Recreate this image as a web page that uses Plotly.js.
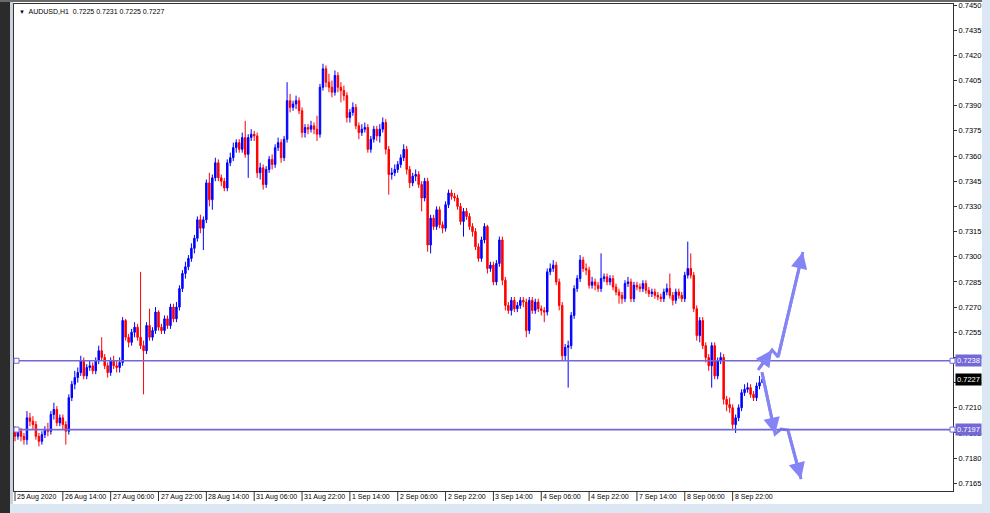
<!DOCTYPE html>
<html><head><meta charset="utf-8">
<script src="https://cdn.plot.ly/plotly-3.0.1.min.js"></script>
<style>
html,body{margin:0;padding:0;background:#fff;overflow:hidden}
#wrap{position:relative;width:990px;height:513px}
#chart{position:absolute;left:0;top:0;width:990px;height:513px}
.deco{position:absolute;pointer-events:none}
</style></head><body>
<div id="wrap"><div id="chart"></div>
<div class="deco" style="left:0;top:0;width:10px;height:513px;background:#2b2b2b"></div>
<div class="deco" style="left:10px;top:0;width:3px;height:513px;background:#c9d3e0"></div>
<div class="deco" style="left:0;top:0;width:990px;height:2px;background:#6a6a6a"></div>
<div class="deco" style="left:10px;top:504px;width:980px;height:9px;background:#dce7f4"></div>
<div class="deco" style="left:982px;top:0;width:8px;height:513px;background:#dce7f4"></div>
</div>
<script>
const symbol = "AUDUSD,H1";
const tickBars = [0,16,32,48,64,80,96,112,128,144,160,176,192,208,224,240];
const tickLabels = ["25 Aug 2020","26 Aug 14:00","27 Aug 06:00","27 Aug 22:00","28 Aug 14:00","31 Aug 06:00","31 Aug 22:00","1 Sep 14:00","2 Sep 06:00","2 Sep 22:00","3 Sep 14:00","4 Sep 06:00","4 Sep 22:00","7 Sep 14:00","8 Sep 06:00","8 Sep 22:00"];

const open = [
0.7197,0.7193,0.7196,0.7193,0.7191,0.7204,0.7202,0.7200,0.7193,0.7190,
0.7194,0.7197,0.7196,0.7206,0.7209,0.7201,0.7204,0.7200,0.7196,0.7216,
0.7224,0.7228,0.7231,0.7238,0.7229,0.7234,0.7235,0.7232,0.7238,0.7244,
0.7240,0.7235,0.7231,0.7238,0.7235,0.7234,0.7237,0.7262,0.7252,0.7249,
0.7255,0.7258,0.7252,0.7247,0.7244,0.7259,0.7252,0.7256,0.7267,0.7258,
0.7256,0.7263,0.7259,0.7270,0.7263,0.7270,0.7281,0.7290,0.7294,0.7299,
0.7305,0.7311,0.7322,0.7317,0.7322,0.7344,0.7334,0.7347,0.7356,0.7347,
0.7345,0.7341,0.7356,0.7359,0.7365,0.7368,0.7364,0.7371,0.7361,0.7371,
0.7373,0.7372,0.7350,0.7353,0.7343,0.7352,0.7358,0.7355,0.7365,0.7368,
0.7359,0.7370,0.7393,0.7389,0.7391,0.7393,0.7387,0.7374,0.7377,0.7376,
0.7378,0.7376,0.7373,0.7401,0.7412,0.7404,0.7401,0.7398,0.7408,0.7401,
0.7399,0.7396,0.7383,0.7386,0.7389,0.7378,0.7374,0.7376,0.7377,0.7364,
0.7370,0.7376,0.7372,0.7376,0.7380,0.7364,0.7349,0.7350,0.7352,0.7355,
0.7359,0.7364,0.7352,0.7344,0.7348,0.7349,0.7343,0.7335,0.7345,0.7307,
0.7323,0.7318,0.7328,0.7319,0.7317,0.7331,0.7338,0.7336,0.7335,0.7330,
0.7321,0.7327,0.7324,0.7318,0.7315,0.7306,0.7299,0.7310,0.7318,0.7293,
0.7295,0.7285,0.7296,0.7310,0.7286,0.7271,0.7268,0.7274,0.7269,0.7271,
0.7274,0.7273,0.7256,0.7274,0.7268,0.7273,0.7269,0.7268,0.7267,0.7291,
0.7293,0.7295,0.7285,0.7271,0.7241,0.7246,0.7247,0.7265,0.7281,0.7287,
0.7298,0.7293,0.7292,0.7283,0.7285,0.7283,0.7281,0.7287,0.7288,0.7285,
0.7287,0.7282,0.7279,0.7277,0.7275,0.7284,0.7285,0.7275,0.7283,0.7282,
0.7281,0.7284,0.7280,0.7278,0.7279,0.7277,0.7276,0.7275,0.7279,0.7281,
0.7277,0.7274,0.7279,0.7277,0.7275,0.7289,0.7293,0.7289,0.7269,0.7253,
0.7262,0.7247,0.7240,0.7235,0.7247,0.7229,0.7238,0.7240,0.7215,0.7212,
0.7210,0.7200,0.7204,0.7210,0.7219,0.7221,0.7222,0.7218,0.7216,0.7223,
0.7225];

const high = [
0.7199,0.7198,0.7198,0.7195,0.7208,0.7207,0.7205,0.7202,0.7195,0.7196,
0.7199,0.7201,0.7208,0.7213,0.7211,0.7206,0.7206,0.7202,0.7218,0.7226,
0.7232,0.7234,0.7241,0.7240,0.7236,0.7238,0.7237,0.7240,0.7247,0.7252,
0.7242,0.7237,0.7240,0.7241,0.7238,0.7240,0.7264,0.7263,0.7254,0.7257,
0.7261,0.7260,0.7291,0.7250,0.7261,0.7269,0.7258,0.7270,0.7268,0.7260,
0.7265,0.7265,0.7272,0.7272,0.7273,0.7283,0.7292,0.7297,0.7301,0.7308,
0.7313,0.7324,0.7325,0.7324,0.7346,0.7350,0.7349,0.7359,0.7358,0.7349,
0.7347,0.7358,0.7362,0.7368,0.7370,0.7370,0.7374,0.7381,0.7373,0.7376,
0.7375,0.7374,0.7356,0.7355,0.7354,0.7360,0.7361,0.7367,0.7371,0.7370,
0.7372,0.7404,0.7397,0.7393,0.7396,0.7395,0.7389,0.7379,0.7379,0.7381,
0.7380,0.7384,0.7403,0.7415,0.7414,0.7409,0.7405,0.7411,0.7410,0.7404,
0.7402,0.7398,0.7388,0.7392,0.7391,0.7380,0.7379,0.7380,0.7379,0.7372,
0.7378,0.7378,0.7379,0.7383,0.7382,0.7366,0.7353,0.7355,0.7357,0.7361,
0.7367,0.7366,0.7354,0.7350,0.7352,0.7351,0.7345,0.7347,0.7347,0.7325,
0.7325,0.7330,0.7330,0.7321,0.7333,0.7340,0.7340,0.7338,0.7337,0.7332,
0.7329,0.7329,0.7326,0.7320,0.7317,0.7308,0.7312,0.7320,0.7319,0.7297,
0.7297,0.7298,0.7312,0.7312,0.7288,0.7273,0.7276,0.7276,0.7273,0.7276,
0.7276,0.7275,0.7276,0.7276,0.7275,0.7275,0.7271,0.7270,0.7293,0.7296,
0.7298,0.7297,0.7287,0.7273,0.7248,0.7250,0.7267,0.7283,0.7289,0.7301,
0.7300,0.7296,0.7294,0.7288,0.7287,0.7285,0.7302,0.7290,0.7290,0.7289,
0.7289,0.7284,0.7281,0.7279,0.7286,0.7288,0.7287,0.7285,0.7285,0.7284,
0.7286,0.7286,0.7282,0.7281,0.7281,0.7279,0.7278,0.7281,0.7284,0.7290,
0.7279,0.7281,0.7281,0.7279,0.7291,0.7309,0.7302,0.7291,0.7271,0.7264,
0.7264,0.7249,0.7242,0.7249,0.7249,0.7240,0.7243,0.7242,0.7217,0.7216,
0.7212,0.7206,0.7212,0.7221,0.7224,0.7225,0.7224,0.7220,0.7225,0.7229,
0.7231];

const low = [
0.7190,0.7191,0.7190,0.7188,0.7188,0.7199,0.7197,0.7191,0.7187,0.7188,
0.7192,0.7193,0.7194,0.7203,0.7199,0.7199,0.7197,0.7188,0.7194,0.7214,
0.7221,0.7225,0.7229,0.7227,0.7227,0.7232,0.7230,0.7230,0.7236,0.7238,
0.7233,0.7228,0.7229,0.7233,0.7231,0.7231,0.7235,0.7250,0.7246,0.7247,
0.7252,0.7250,0.7245,0.7218,0.7242,0.7250,0.7250,0.7254,0.7256,0.7254,
0.7254,0.7257,0.7257,0.7261,0.7261,0.7268,0.7279,0.7287,0.7292,0.7297,
0.7302,0.7309,0.7314,0.7304,0.7320,0.7330,0.7328,0.7345,0.7345,0.7342,
0.7339,0.7339,0.7354,0.7357,0.7362,0.7362,0.7362,0.7359,0.7347,0.7369,
0.7369,0.7347,0.7346,0.7340,0.7341,0.7350,0.7352,0.7353,0.7363,0.7356,
0.7357,0.7368,0.7386,0.7387,0.7388,0.7385,0.7371,0.7371,0.7373,0.7374,
0.7373,0.7369,0.7371,0.7399,0.7401,0.7398,0.7395,0.7396,0.7398,0.7392,
0.7393,0.7380,0.7380,0.7384,0.7376,0.7370,0.7372,0.7374,0.7362,0.7362,
0.7368,0.7369,0.7368,0.7374,0.7361,0.7337,0.7346,0.7348,0.7350,0.7353,
0.7357,0.7349,0.7341,0.7342,0.7345,0.7341,0.7327,0.7333,0.7303,0.7302,
0.7316,0.7316,0.7317,0.7314,0.7315,0.7329,0.7334,0.7333,0.7328,0.7319,
0.7312,0.7322,0.7316,0.7312,0.7304,0.7297,0.7297,0.7308,0.7290,0.7291,
0.7283,0.7283,0.7294,0.7283,0.7268,0.7266,0.7265,0.7267,0.7267,0.7269,
0.7270,0.7252,0.7254,0.7266,0.7266,0.7267,0.7265,0.7261,0.7265,0.7289,
0.7291,0.7283,0.7268,0.7238,0.7238,0.7222,0.7245,0.7263,0.7279,0.7285,
0.7291,0.7289,0.7281,0.7281,0.7280,0.7279,0.7279,0.7285,0.7283,0.7283,
0.7280,0.7277,0.7272,0.7272,0.7273,0.7282,0.7273,0.7273,0.7280,0.7279,
0.7279,0.7278,0.7276,0.7276,0.7275,0.7274,0.7273,0.7273,0.7277,0.7275,
0.7271,0.7272,0.7275,0.7273,0.7273,0.7287,0.7287,0.7267,0.7250,0.7249,
0.7245,0.7237,0.7232,0.7222,0.7227,0.7227,0.7236,0.7212,0.7208,0.7207,
0.7197,0.7195,0.7202,0.7208,0.7217,0.7219,0.7216,0.7214,0.7214,0.7221,
0.7225];

const close = [
0.7193,0.7196,0.7193,0.7191,0.7204,0.7202,0.7200,0.7193,0.7190,0.7194,
0.7197,0.7196,0.7206,0.7209,0.7201,0.7204,0.7200,0.7196,0.7216,0.7224,
0.7228,0.7231,0.7238,0.7229,0.7234,0.7235,0.7232,0.7238,0.7244,0.7240,
0.7235,0.7231,0.7238,0.7235,0.7234,0.7237,0.7262,0.7252,0.7249,0.7255,
0.7258,0.7252,0.7247,0.7244,0.7259,0.7252,0.7256,0.7267,0.7258,0.7256,
0.7263,0.7259,0.7270,0.7263,0.7270,0.7281,0.7290,0.7294,0.7299,0.7305,
0.7311,0.7322,0.7317,0.7322,0.7344,0.7334,0.7347,0.7356,0.7347,0.7345,
0.7341,0.7356,0.7359,0.7365,0.7368,0.7364,0.7371,0.7361,0.7371,0.7373,
0.7372,0.7350,0.7353,0.7343,0.7352,0.7358,0.7355,0.7365,0.7368,0.7359,
0.7370,0.7393,0.7389,0.7391,0.7393,0.7387,0.7374,0.7377,0.7376,0.7378,
0.7376,0.7373,0.7401,0.7412,0.7404,0.7401,0.7398,0.7408,0.7401,0.7399,
0.7396,0.7383,0.7386,0.7389,0.7378,0.7374,0.7376,0.7377,0.7364,0.7370,
0.7376,0.7372,0.7376,0.7380,0.7364,0.7349,0.7350,0.7352,0.7355,0.7359,
0.7364,0.7352,0.7344,0.7348,0.7349,0.7343,0.7335,0.7345,0.7307,0.7323,
0.7318,0.7328,0.7319,0.7317,0.7331,0.7338,0.7336,0.7335,0.7330,0.7321,
0.7327,0.7324,0.7318,0.7315,0.7306,0.7299,0.7310,0.7318,0.7293,0.7295,
0.7285,0.7296,0.7310,0.7286,0.7271,0.7268,0.7274,0.7269,0.7271,0.7274,
0.7273,0.7256,0.7274,0.7268,0.7273,0.7269,0.7268,0.7267,0.7291,0.7293,
0.7295,0.7285,0.7271,0.7241,0.7246,0.7247,0.7265,0.7281,0.7287,0.7298,
0.7293,0.7292,0.7283,0.7285,0.7283,0.7281,0.7287,0.7288,0.7285,0.7287,
0.7282,0.7279,0.7277,0.7275,0.7284,0.7285,0.7275,0.7283,0.7282,0.7281,
0.7284,0.7280,0.7278,0.7279,0.7277,0.7276,0.7275,0.7279,0.7281,0.7277,
0.7274,0.7279,0.7277,0.7275,0.7289,0.7293,0.7289,0.7269,0.7253,0.7262,
0.7247,0.7240,0.7235,0.7247,0.7229,0.7238,0.7240,0.7215,0.7212,0.7210,
0.7200,0.7204,0.7210,0.7219,0.7221,0.7222,0.7218,0.7216,0.7223,0.7225,
0.7227];

const levels = [0.7238, 0.7197];
const currentPrice = 0.7227;

// hand-drawn forecast arrows (bar index, price)
const upArrowX = [248.5, 253.2, 255.2, 263.5];
const upArrowY = [0.72325, 0.72444, 0.72402, 0.73028];
const downArrowX = [249.8, 254.2, 256.2, 258.5, 262.9];
const downArrowY = [0.72313, 0.71943, 0.71973, 0.71967, 0.71675];

const bars = close.map((_, i) => i);
const last = close.length - 1;
const levelColor = '#7468d8';
const arrowColor = '#8484f6';
const font = 'Liberation Sans, Arial, sans-serif';

const traces = [
  {
    type: 'candlestick', x: bars, open: open, high: high, low: low, close: close,
    increasing: {line: {color: '#0000ff', width: 1}, fillcolor: '#0000ff'},
    decreasing: {line: {color: '#ff0000', width: 1}, fillcolor: '#ff0000'},
    whiskerwidth: 0, hoverinfo: 'skip', showlegend: false
  },
  {type: 'scatter', mode: 'lines', x: upArrowX, y: upArrowY,
   line: {color: arrowColor, width: 3}, hoverinfo: 'skip', showlegend: false},
  {type: 'scatter', mode: 'lines', x: downArrowX, y: downArrowY,
   line: {color: arrowColor, width: 3}, hoverinfo: 'skip', showlegend: false}
];

const shapes = [];
const annotations = [];
// time scale: separators and left-aligned labels, MetaTrader style
tickBars.forEach((b, k) => {
  shapes.push({type: 'line', xref: 'x', x0: b, x1: b, yref: 'paper', ysizemode: 'pixel',
    yanchor: 0, y0: 0, y1: -10, line: {color: '#333333', width: 1}});
  annotations.push({xref: 'x', x: b, xanchor: 'left', xshift: 1, yref: 'paper', y: 0,
    yanchor: 'top', yshift: -1, text: tickLabels[k], showarrow: false, borderpad: 0,
    font: {family: font, size: 7, color: '#000000'}});
});
levels.forEach(lv => {
  shapes.push({type: 'line', xref: 'paper', x0: 0, x1: 1, yref: 'y', y0: lv, y1: lv,
    line: {color: levelColor, width: 1.6}});
  shapes.push({type: 'rect', xref: 'paper', xsizemode: 'pixel', xanchor: 0, x0: 0, x1: 5,
    yref: 'y', ysizemode: 'pixel', yanchor: lv, y0: -2.5, y1: 2.5,
    line: {color: levelColor, width: 1}, fillcolor: '#ffffff'});
  shapes.push({type: 'rect', xref: 'paper', xsizemode: 'pixel', xanchor: 1, x0: -3, x1: 2,
    yref: 'y', ysizemode: 'pixel', yanchor: lv, y0: -2.5, y1: 2.5,
    line: {color: levelColor, width: 1}, fillcolor: '#ffffff'});
  annotations.push({xref: 'paper', x: 1, xanchor: 'left', xshift: 2, yref: 'y', y: lv,
    yanchor: 'middle', text: lv.toFixed(4), showarrow: false, bgcolor: levelColor,
    borderpad: 1, font: {family: font, size: 7.5, color: '#ffffff'}});
});
annotations.push({xref: 'paper', x: 1, xanchor: 'left', xshift: 2, yref: 'y', y: currentPrice,
  yanchor: 'middle', text: currentPrice.toFixed(4), showarrow: false, bgcolor: '#000000',
  borderpad: 1, font: {family: font, size: 7.5, color: '#ffffff'}});

// arrow heads
function head(xs, ys, k) {
  annotations.push({x: xs[k], y: ys[k], ax: xs[k-1], ay: ys[k-1], xref: 'x', yref: 'y',
    axref: 'x', ayref: 'y', text: '', showarrow: true, arrowhead: 2, arrowsize: 1.1,
    arrowwidth: 3, arrowcolor: arrowColor});
}
head(upArrowX, upArrowY, 1);
head(upArrowX, upArrowY, upArrowX.length - 1);
head(downArrowX, downArrowY, 1);
head(downArrowX, downArrowY, downArrowX.length - 1);

annotations.push({xref: 'paper', x: 0, xanchor: 'left', xshift: 3, yref: 'paper', y: 1,
  yanchor: 'top', yshift: -2, showarrow: false, align: 'left',
  text: '<span style="font-size:6px">▼</span>  ' + symbol + '  ' +
    [open[last], high[last], low[last], close[last]].map(v => v.toFixed(4)).join(' '),
  font: {family: font, size: 7, color: '#000000'}});

const layout = {
  width: 990, height: 513,
  margin: {l: 14, r: 37, t: 4, b: 22, pad: 0},
  paper_bgcolor: '#ffffff', plot_bgcolor: '#ffffff',
  showlegend: false, hovermode: false,
  font: {family: font, size: 7.5, color: '#000000'},
  xaxis: {
    range: [-0.33, 313.7], tickmode: 'array', tickvals: tickBars, ticktext: tickLabels,
    ticks: '', showticklabels: false,
    showline: true, linecolor: '#333333', linewidth: 1, mirror: true,
    showgrid: false, zeroline: false, automargin: false,
    rangeslider: {visible: false}, fixedrange: true
  },
  yaxis: {
    side: 'right', range: [0.71604, 0.74506], tick0: 0.7165, dtick: 0.0015, tickformat: '.4f',
    ticks: 'outside', ticklen: 3, tickwidth: 1, tickcolor: '#333333',
    tickfont: {family: font, size: 7.5, color: '#000000'},
    showline: true, linecolor: '#333333', linewidth: 1, mirror: true,
    showgrid: false, zeroline: false, automargin: false, fixedrange: true
  },
  shapes: shapes,
  annotations: annotations
};

Plotly.newPlot('chart', traces, layout, {staticPlot: true, displayModeBar: false});
</script>
</body></html>
